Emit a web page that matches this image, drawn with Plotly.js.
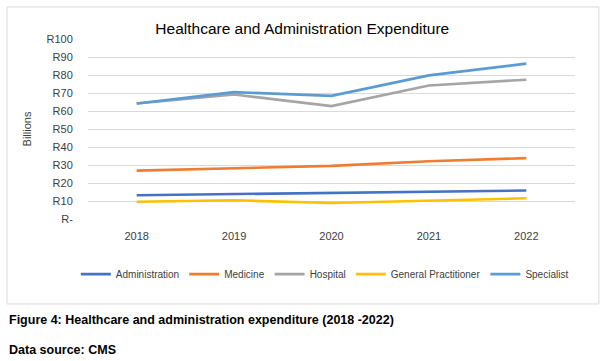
<!DOCTYPE html>
<html>
<head>
<meta charset="utf-8">
<script src="https://cdn.plot.ly/plotly-3.0.1.min.js"></script>
<style>html,body{margin:0;padding:0;background:#fff;}#chart{width:608px;height:361px;}</style>
</head>
<body>
<div id="chart"></div>
<script>
const years = ['2018', '2019', '2020', '2021', '2022'];
const administration = [13.2, 13.9, 14.5, 15.0, 15.8];
const medicine = [26.9, 28.2, 29.5, 32.1, 33.8];
const hospital = [64.2, 69.2, 62.7, 74.2, 77.4];
const generalPractitioner = [9.6, 10.4, 8.9, 10.4, 11.5];
const specialist = [64.2, 70.5, 68.4, 79.8, 86.3];
const tickValues = [0, 10, 20, 30, 40, 50, 60, 70, 80, 90, 100];
const tickLabels = ['R-', 'R10', 'R20', 'R30', 'R40', 'R50', 'R60', 'R70', 'R80', 'R90', 'R100'];

const FONT = '"Liberation Sans", Arial, sans-serif';

function tr(name, y, color) {
  return {type: 'scatter', mode: 'lines', name: name, x: years, y: y,
          line: {color: color, width: 2.6}};
}
const data = [
  tr('Administration', administration, '#4472C4'),
  tr('Medicine', medicine, '#ED7D31'),
  tr('Hospital', hospital, '#A5A5A5'),
  tr('General Practitioner', generalPractitioner, '#FFC000'),
  tr('Specialist', specialist, '#5B9BD5')
];

const layout = {
  width: 608, height: 361,
  margin: {l: 88, r: 33, t: 39, b: 142},
  paper_bgcolor: '#fff', plot_bgcolor: '#fff',
  font: {family: FONT, size: 11, color: '#404040'},
  title: {text: 'Healthcare and Administration Expenditure', xref: 'paper', x: 0.44, xanchor: 'center',
          yref: 'container', y: 0.92, yanchor: 'middle', font: {family: FONT, size: 15.5, color: '#000'}},
  xaxis: {type: 'category', range: [-0.5, 4.5], showgrid: false, zeroline: false,
          showline: false, ticks: 'outside', ticklen: 7, tickcolor: 'rgba(0,0,0,0)',
          tickfont: {family: FONT, size: 11, color: '#404040'}},
  yaxis: {range: [0, 100], tickvals: tickValues, ticktext: tickLabels,
          showgrid: true, gridcolor: '#D9D9D9', gridwidth: 1, zeroline: false,
          showline: false, ticks: 'outside', ticklen: 12, tickcolor: 'rgba(0,0,0,0)',
          tickfont: {family: FONT, size: 11, color: '#404040'},
          title: {text: 'Billions', standoff: 12, font: {family: FONT, size: 11, color: '#404040'}}},
  showlegend: true,
  legend: {orientation: 'h', xref: 'paper', x: -0.025, xanchor: 'left',
           yref: 'paper', y: -0.306, yanchor: 'middle',
           font: {family: FONT, size: 10, color: '#404040'}, itemwidth: 30,
           tracegroupgap: 0, bgcolor: 'rgba(0,0,0,0)'},
  shapes: [{type: 'rect', xref: 'paper', yref: 'paper', x0: -0.1663, x1: 1.049,
            y0: -0.472, y1: 1.178, line: {color: '#D9D9D9', width: 1}, fillcolor: 'rgba(0,0,0,0)', layer: 'below'}],
  annotations: [
    {text: '<b>Figure 4: Healthcare and administration expenditure (2018 -2022)</b>', xref: 'paper', yref: 'paper',
     x: -0.167, xanchor: 'left', y: -0.561, yanchor: 'middle', showarrow: false,
     font: {family: FONT, size: 12.5, color: '#000'}},
    {text: '<b>Data source: CMS</b>', xref: 'paper', yref: 'paper',
     x: -0.167, xanchor: 'left', y: -0.728, yanchor: 'middle', showarrow: false,
     font: {family: FONT, size: 12.5, color: '#000'}}
  ]
};

Plotly.newPlot('chart', data, layout, {displayModeBar: false, staticPlot: true});
</script>
</body>
</html>
